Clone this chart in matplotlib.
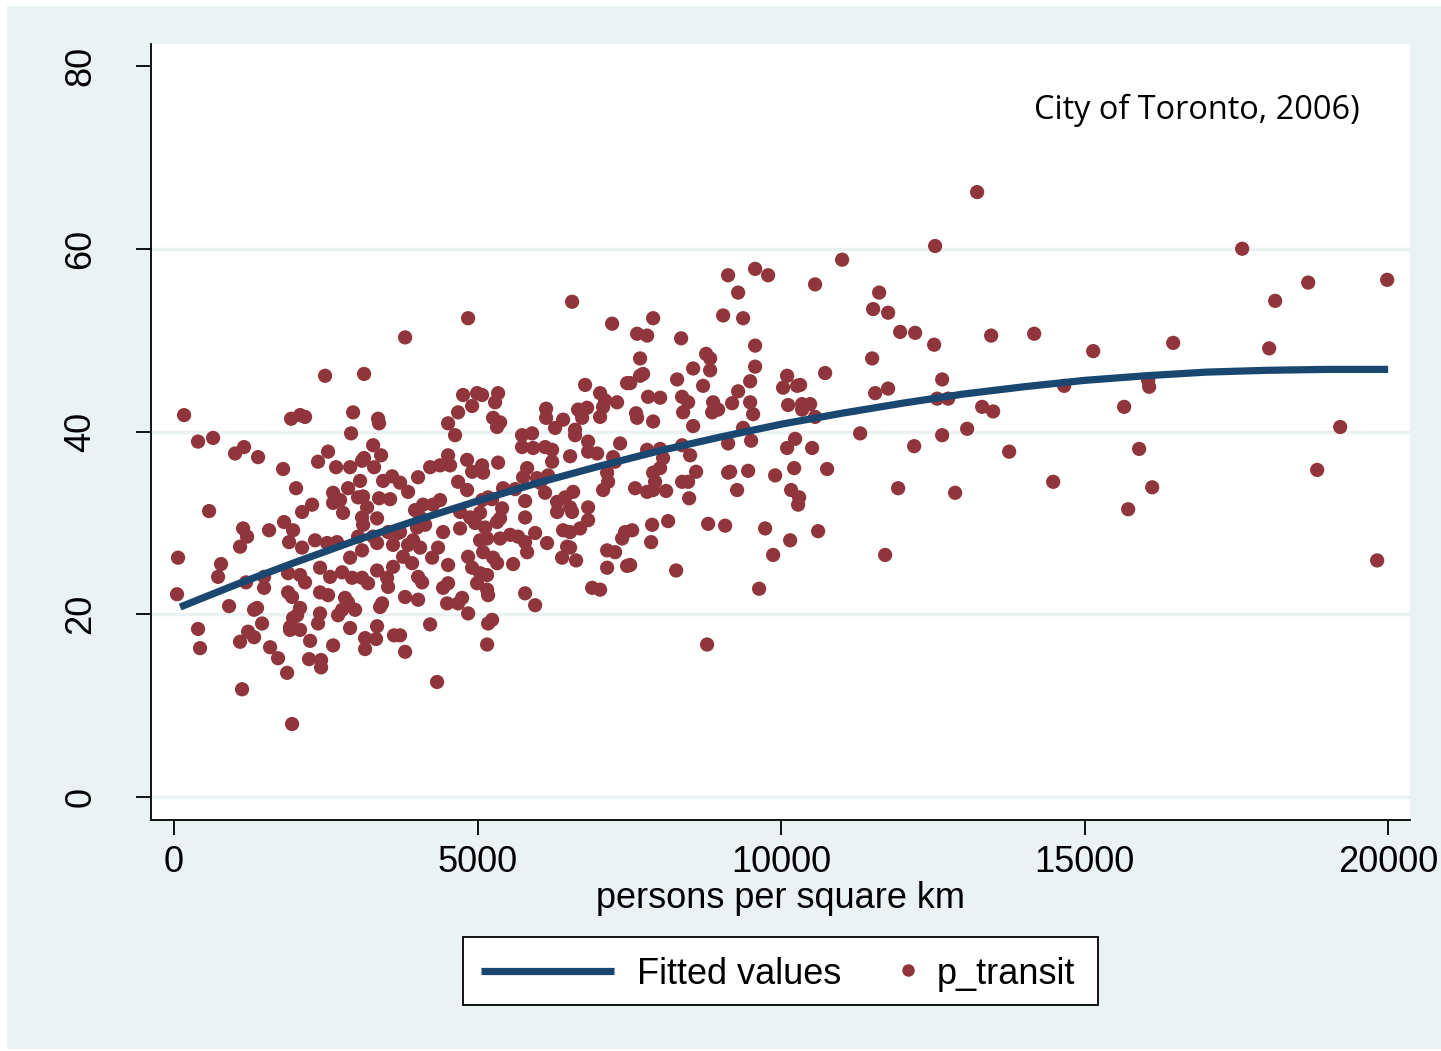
import matplotlib
matplotlib.use("Agg")
import matplotlib.pyplot as plt
from matplotlib.patches import Rectangle
from matplotlib.lines import Line2D

# ---- data (persons per square km, % transit) ----
density = [
 13229,12537,17595,19984,18683,18139,11961,12208,12521,13460,14169,15141,16459,18040,
 12653,12570,12752,13312,13493,14663,16047,16063,15651,12653,13065,12192,13757,15898,
 19210,11928,12867,14482,16113,15717,18831,19819,
 11005,9572,9127,9786,9292,10560,11615,11516,11763,9045,9374,7892,7628,7793,8353,9572,
 7677,8765,8831,11500,8551,8831,9572,7677,7727,8287,9490,10725,10099,8715,10033,10264,
 10313,9292,7513,11549,11763,7809,8007,8369,8468,8386,8880,8864,8962,9193,9490,9539,
 10116,10346,10478,10346,10560,7611,7628,7892,8551,9374,9127,9506,10231,10099,10511,
 11302,7793,8007,8369,
 8056,8501,7892,8007,7924,7595,7793,7892,8106,8369,8468,8600,8485,9160,9127,9457,9275,
 9902,10215,10758,10165,10297,10280,7546,7875,8139,7859,8798,9078,9737,10149,10610,
 9869,11714,7513,8271,9638,8781,
 3806,4844,6557,7216,7463,6771,7018,7101,7298,7018,7068,6804,6656,6722,6606,6606,6409,
 6277,6129,6129,4761,4679,4910,4992,5074,5338,5288,5256,5371,5321,4514,4629,5733,5898,
 5733,5915,6112,6228,6821,6821,6969,6524,7233,7265,7348,4514,
 3723,4218,4382,4547,4020,3855,4827,4910,5091,5338,4679,4827,5074,5816,5750,5980,6162,
 6228,6030,5618,5420,6112,5783,5783,7134,7150,7068,5074,5173,5239,5404,5371,6310,6442,
 6574,6310,6524,6557,6821,6821,6689,6409,6524,4267,4382,4102,3970,4053,4003,4135,4712,
 4877,4959,5124,5041,4712,5321,4432,3723,3938,3855,4053,5041,5157,5371,5536,5667,5783,
 5948,6145,6475,6524,5091,5816,4349,3773,4251,3921,4844,5256,5321,6392,6623,7134,7265,
 7381,7430,5585,4910,5041,5157,4514,4020,4086,4514,4432,4992,5157,5173,7134,7463,6887,
 7018,3806,4020,4498,4679,4745,4844,5783,5948,5239,5173,4218,3723,3806,5157,4333,
 165,395,643,1005,1153,1384,1796,1928,2076,2158,2949,2916,3361,3377,2010,2372,2537,
 2669,2900,3097,3130,3279,3410,3295,3064,2867,3443,3592,2620,2735,2620,2784,3031,3114,
 3377,3559,2274,2109,577,1812,1565,1961,1895,1137,1203,1087,2323,2109,2521,2685,3031,
 3097,3279,3344,3097,3180,3344,3114,3526,3690,3608,66,774,2900,2488,3130,
 725,49,1186,1483,1483,906,1878,2076,2158,1878,1944,2405,2570,2405,2537,2768,2933,3097,
 3196,3344,3509,3526,3608,2817,2867,2982,2768,2702,3427,3394,2405,2372,2076,2026,1961,
 1367,1318,1450,1911,1911,2076,2900,3344,3147,3328,3624,3147,2620,2241,1219,1318,1087,
 1582,1713,2224,2422,2422,1862,395,428,1120,1944,
]
p_transit = [
 66.2,60.3,60.0,56.6,56.3,54.3,50.9,50.8,49.5,50.5,50.7,48.8,49.7,49.1,
 45.7,43.6,43.6,42.7,42.2,45.0,45.6,44.9,42.7,39.6,40.3,38.4,37.8,38.1,
 40.5,33.8,33.3,34.5,33.9,31.5,35.8,25.9,
 58.8,57.8,57.1,57.1,55.2,56.1,55.2,53.4,53.0,52.7,52.4,52.4,50.7,50.5,50.2,49.4,
 48.0,48.5,48.0,48.0,46.9,46.7,47.1,46.1,46.3,45.7,45.5,46.4,46.1,45.0,44.8,45.0,
 45.1,44.4,45.3,44.2,44.7,43.8,43.7,43.8,43.2,42.1,43.2,42.1,42.4,43.1,43.2,41.9,
 42.9,43.0,43.0,42.4,41.6,42.0,41.5,41.1,40.6,40.4,38.7,39.0,39.2,38.2,38.2,
 39.8,38.0,38.1,38.5,
 37.1,37.4,35.5,36.0,34.5,33.8,33.4,33.6,33.5,34.5,34.5,35.6,32.7,35.6,35.5,35.7,33.6,
 35.2,36.0,35.9,33.6,32.8,32.0,29.2,29.8,30.2,27.9,29.9,29.7,29.4,28.1,29.1,
 26.5,26.5,25.4,24.8,22.8,16.7,
 50.3,52.4,54.2,51.8,45.3,45.1,44.2,43.4,43.2,41.6,42.7,42.6,42.4,41.5,40.2,39.6,41.3,
 40.4,42.5,41.5,44.0,42.1,42.8,44.2,44.0,44.2,43.2,41.5,41.0,40.5,40.9,39.6,39.6,39.8,
 38.3,38.2,38.3,38.0,38.9,37.8,37.6,37.3,37.2,36.7,38.7,37.4,
 34.4,36.1,36.3,36.3,35.0,33.4,36.9,35.6,35.5,36.6,34.5,33.6,36.3,36.0,35.0,34.9,35.2,
 36.7,34.4,33.7,33.8,33.3,32.4,30.6,35.5,34.5,33.6,32.5,32.8,32.6,31.6,30.5,32.3,32.8,
 33.4,31.2,31.7,31.2,31.7,30.3,29.4,29.2,29.0,32.0,32.5,32.0,31.4,30.6,29.5,29.8,31.2,
 30.6,30.0,29.5,31.1,29.4,30.1,29.0,29.0,28.1,27.6,27.3,28.1,28.3,28.3,28.7,28.5,27.9,
 28.9,27.8,27.4,27.3,26.8,26.8,27.3,26.3,26.2,25.6,26.3,26.2,25.6,26.2,25.9,27.0,26.8,
 28.3,29.0,25.5,25.1,24.5,24.3,25.4,24.1,23.5,23.4,22.9,23.4,22.7,22.1,25.1,25.3,22.9,
 22.7,21.9,21.6,21.2,21.2,21.8,20.1,22.3,21.0,19.4,19.0,18.9,17.7,15.9,16.7,12.6,
 41.8,38.9,39.3,37.6,38.3,37.2,35.9,41.4,41.8,41.6,42.1,39.8,41.4,40.9,33.8,36.7,37.8,
 36.1,36.1,36.8,37.1,38.5,37.4,36.1,34.6,33.8,34.6,35.1,33.3,32.5,32.2,31.1,32.8,32.9,
 32.7,32.6,32.0,31.2,31.3,30.1,29.2,29.2,27.9,29.4,28.5,27.4,28.1,27.3,27.8,27.9,28.5,
 27.0,28.5,27.8,30.6,31.7,30.5,29.8,29.0,28.9,27.6,26.2,25.5,26.2,46.1,46.3,
 24.1,22.2,23.5,24.1,22.9,20.9,24.5,24.3,23.5,22.4,21.9,25.1,24.1,22.4,22.1,24.6,24.0,24.0,
 23.4,24.8,24.0,23.0,25.2,21.8,21.3,20.5,20.5,19.9,21.2,20.8,20.1,19.0,20.7,19.9,19.6,
 20.7,20.5,19.0,18.6,18.3,18.3,18.5,18.7,17.4,17.3,17.7,16.2,16.6,17.1,18.1,17.5,17.0,
 16.4,15.2,15.1,15.0,14.2,13.6,18.4,16.3,11.8,8.0,
]
fit_x = [100, 1000, 2000, 3000, 4000, 5000, 6000, 7000, 8000, 9000, 10000,
         11000, 12000, 13000, 14000, 15000, 16000, 17000, 18000, 19000, 20000]
fit_y = [20.8, 23.2, 25.7, 28.1, 30.3, 32.4, 34.4, 36.2, 37.9, 39.4, 40.8,
         42.0, 43.1, 44.1, 44.9, 45.6, 46.1, 46.5, 46.7, 46.8, 46.8]

x_ticks = [0, 5000, 10000, 15000, 20000]
y_ticks = [0, 20, 40, 60, 80]
note = "City of Toronto, 2006)"
x_label = "persons per square km"
legend_labels = ["Fitted values", "p_transit"]

# ---- style ----
BG = "#EAF2F3"
DOT = "#90353B"
LINE = "#1A476F"
FS = 26

W, H = 1441, 1051
fig = plt.figure(figsize=(W / 100, H / 100), dpi=100, facecolor="white")
fig.patches.append(Rectangle((7 / W, 2 / H), 1 - 7 / W, 1 - 8 / H,
                             transform=fig.transFigure, facecolor=BG,
                             edgecolor="none", zorder=-10))

def fx(px):
    return px / W

def fy(py):
    return 1 - py / H

ax = fig.add_axes([fx(151), fy(820), (1410 - 151) / W, (820 - 44) / H])
ax.set_facecolor("white")
for s in ["top", "right"]:
    ax.spines[s].set_visible(False)
for s in ["left", "bottom"]:
    ax.spines[s].set_color("black")
    ax.spines[s].set_linewidth(1.3)

ax.set_xlim(-380, 20360)
ax.set_ylim(-2.5, 82.4)

for g in [0, 20, 40, 60]:
    ax.axhline(g, color=BG, lw=2.5, zorder=0)

ax.scatter(density, p_transit, s=105, color=DOT, edgecolors="none", zorder=2)
ax.plot(fit_x, fit_y, color=LINE, lw=5.2, solid_capstyle="butt", zorder=3)

ax.set_xticks(x_ticks)
ax.set_xticklabels([str(v) for v in x_ticks])
ax.set_yticks(y_ticks)
ax.set_yticklabels([str(v) for v in y_ticks], rotation=90, va="center")
ax.tick_params(axis="both", direction="out", length=11, width=1.3, color="black",
               labelsize=FS)
ax.tick_params(axis="y", pad=27)
ax.tick_params(axis="x", pad=7)
for lab in ax.get_xticklabels() + ax.get_yticklabels():
    lab.set_fontfamily("Liberation Sans")

ax.set_xlabel(x_label, fontsize=FS, family="Liberation Sans", labelpad=1)

ax.text(16854, 75.1, note, ha="center", va="center", fontsize=23.4,
        family="Open Sans")

# ---- legend (Stata style: line key, then small dot key) ----
fig.patches.append(Rectangle((fx(463), fy(1005)), (1098 - 463) / W, (1005 - 937) / H,
                             transform=fig.transFigure, facecolor="white",
                             edgecolor="black", lw=1.3, zorder=5))
fig.add_artist(Line2D([fx(481), fx(614)], [fy(971), fy(971)], color=LINE, lw=5.2,
                      solid_capstyle="butt", transform=fig.transFigure, zorder=6))
fig.add_artist(Line2D([fx(908)], [fy(970)], marker="o", ls="none", color=DOT,
                      markersize=9, markeredgewidth=0,
                      transform=fig.transFigure, zorder=6))
fig.text(fx(637), fy(975), legend_labels[0], ha="left", va="center", fontsize=FS,
         family="Liberation Sans", zorder=6)
fig.text(fx(937), fy(975), legend_labels[1], ha="left", va="center", fontsize=FS,
         family="Liberation Sans", zorder=6)

fig.savefig("out.png", dpi=100, facecolor="white")
